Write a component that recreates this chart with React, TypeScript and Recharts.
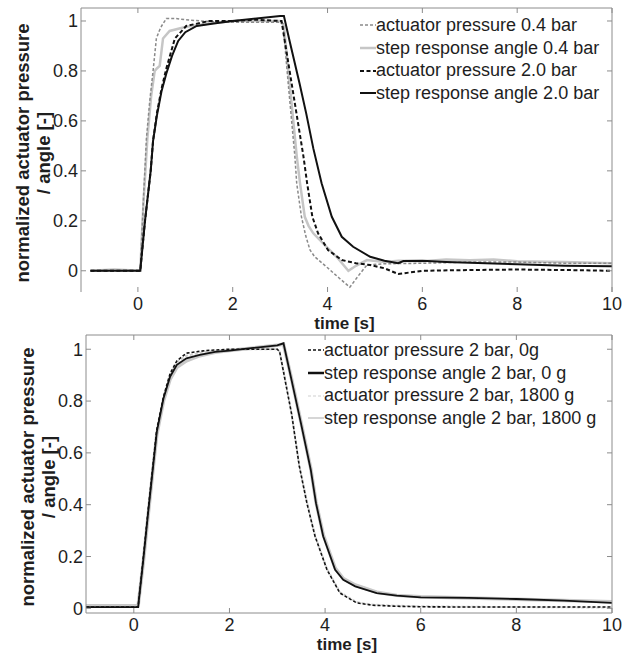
import { LineChart, Line, XAxis, YAxis, Legend } from 'recharts';

const FONT = '"Liberation Sans", Arial, sans-serif';
const AXIS = '#8c8c8c';
const INK = '#1e1e1e';

const xTicks = [0, 2, 4, 6, 8, 10];
const yTicks = [0, 0.2, 0.4, 0.6, 0.8, 1];
const yTickLabels = ['0', '0.2', '0.4', '0.6', '0.8', '1'];

// top panel: 0.4 bar vs 2.0 bar
const tPress04 = [-1, 0.05, 0.12, 0.18, 0.25, 0.32, 0.39, 0.45, 0.5, 0.6, 0.8, 1.0, 1.5, 2.0, 2.5, 3.0, 3.06, 3.18, 3.31, 3.35, 3.45, 3.54, 3.63, 3.73, 4.0, 4.25, 4.47, 4.65, 4.83, 5.2, 6, 7, 8, 9, 10];
const vPress04 = [0, 0, 0.3, 0.53, 0.68, 0.8, 0.93, 0.96, 0.98, 1.01, 1.01, 1.005, 0.998, 0.995, 0.995, 0.995, 0.99, 0.73, 0.46, 0.35, 0.216, 0.14, 0.083, 0.056, 0.012, -0.03, -0.066, -0.02, 0.023, 0.028, 0.03, 0.035, 0.035, 0.03, 0.03];

const tAngle04 = [-1, -0.5, 0.05, 0.12, 0.2, 0.28, 0.355, 0.4, 0.46, 0.53, 0.67, 1.02, 1.5, 2.0, 2.5, 3.0, 3.08, 3.2, 3.35, 3.42, 3.52, 3.6, 3.7, 3.98, 4.19, 4.44, 4.6, 4.83, 5.2, 5.5, 6, 6.5, 7, 7.5, 8, 9, 10];
const vAngle04 = [0, 0.005, 0, 0.28, 0.53, 0.7, 0.8, 0.81, 0.82, 0.93, 0.96, 0.977, 0.99, 1.0, 1.0, 1.0, 0.98, 0.75, 0.46, 0.35, 0.216, 0.18, 0.15, 0.096, 0.056, 0.0, 0.02, 0.043, 0.035, 0.04, 0.038, 0.045, 0.042, 0.045, 0.038, 0.035, 0.03];

const tPress20 = [-1, 0.05, 0.15, 0.27, 0.32, 0.4, 0.5, 0.6, 0.78, 1.02, 1.5, 2.0, 2.5, 3.0, 3.03, 3.2, 3.49, 3.57, 3.68, 3.8, 4.01, 4.3, 4.6, 4.9, 5.2, 5.49, 6.0, 7, 8, 9, 10];
const vPress20 = [0, 0, 0.2, 0.4, 0.52, 0.63, 0.73, 0.81, 0.93, 0.98, 1.0, 1.0, 1.005, 1.0, 1.0, 0.8, 0.46, 0.35, 0.216, 0.15, 0.083, 0.043, 0.03, 0.023, 0.01, -0.013, 0.0, 0.003, 0.005, 0.003, 0.0];

const tAngle20 = [-1, 0.05, 0.15, 0.27, 0.32, 0.4, 0.5, 0.6, 0.72, 0.85, 1.0, 1.24, 1.6, 2.0, 2.5, 3.0, 3.08, 3.2, 3.41, 3.55, 3.7, 3.875, 4.09, 4.3, 4.54, 4.9, 5.2, 5.49, 5.6, 6, 6.5, 7, 8, 9, 10];
const vAngle20 = [0, 0, 0.2, 0.4, 0.52, 0.62, 0.72, 0.79, 0.86, 0.92, 0.955, 0.98, 0.99, 1.0, 1.01, 1.02, 1.02, 0.92, 0.75, 0.63, 0.49, 0.35, 0.216, 0.136, 0.096, 0.056, 0.04, 0.03, 0.039, 0.04, 0.035, 0.032, 0.026, 0.02, 0.018];

// bottom panel: 2 bar, 0 g vs 1800 g
const tPress0g = [-1, 0.09, 0.2, 0.3, 0.39, 0.48, 0.62, 0.76, 0.9, 1.1, 1.5, 2.0, 2.5, 3.0, 3.05, 3.3, 3.46, 3.62, 3.79, 4.04, 4.31, 4.66, 5.0, 5.5, 6, 7, 8, 9, 10];
const vPress0g = [0.005, 0.005, 0.2, 0.38, 0.535, 0.69, 0.817, 0.907, 0.955, 0.985, 0.995, 1.0, 1.0, 1.0, 0.99, 0.75, 0.55, 0.406, 0.278, 0.149, 0.059, 0.021, 0.012, 0.008, 0.006, 0.005, 0.005, 0.005, 0.005];

const tPress1800 = [-1, -0.5, 0, 0.09, 0.2, 0.3, 0.39, 0.48, 0.62, 0.76, 0.9, 1.1, 1.5, 2.0, 2.5, 3.0, 3.05, 3.3, 3.46, 3.62, 3.79, 4.04, 4.31, 4.66, 5.0, 5.5, 6, 7, 8, 9, 10];
const vPress1800 = [0.01, 0.008, 0.01, 0.01, 0.19, 0.37, 0.53, 0.68, 0.81, 0.9, 0.95, 0.975, 0.99, 0.998, 1.0, 1.0, 0.99, 0.75, 0.55, 0.41, 0.28, 0.152, 0.062, 0.024, 0.014, 0.01, 0.008, 0.006, 0.005, 0.004, 0.003];

const tAngle2bar = [-1, 0.09, 0.2, 0.3, 0.39, 0.48, 0.62, 0.76, 0.9, 1.1, 1.38, 1.7, 2.0, 2.5, 3.0, 3.13, 3.3, 3.5, 3.7, 3.81, 3.96, 4.21, 4.38, 4.63, 5.08, 5.5, 6, 7, 8, 9, 10];
const vAngle0g = [0.005, 0.005, 0.19, 0.37, 0.525, 0.68, 0.81, 0.895, 0.94, 0.965, 0.978, 0.99, 0.995, 1.005, 1.015, 1.023, 0.88, 0.71, 0.535, 0.406, 0.278, 0.149, 0.11, 0.085, 0.059, 0.049, 0.042, 0.04, 0.036, 0.03, 0.021];
const vAngle1800 = [0.01, 0.01, 0.18, 0.36, 0.515, 0.67, 0.8, 0.885, 0.93, 0.955, 0.975, 0.988, 0.995, 1.005, 1.015, 1.02, 0.885, 0.715, 0.54, 0.41, 0.285, 0.155, 0.115, 0.09, 0.062, 0.05, 0.045, 0.04, 0.035, 0.03, 0.025];

const zip = (t: number[], v: number[]) => t.map((x, i) => ({ t: x, v: v[i] }));

interface Series {
  name: string;
  data: { t: number; v: number }[];
  color: string;
  width: number;
  dash?: string;
  legendWidth?: number;
}

const press04: Series = { name: 'actuator pressure 0.4 bar', data: zip(tPress04, vPress04), color: '#8a8a8a', width: 1.5, dash: '3 2' };
const angle04: Series = { name: 'step response angle 0.4 bar', data: zip(tAngle04, vAngle04), color: '#c6c6c6', width: 2.5 };
const press20: Series = { name: 'actuator pressure 2.0 bar', data: zip(tPress20, vPress20), color: '#111', width: 2, dash: '4 2.5' };
const angle20: Series = { name: 'step response angle 2.0 bar', data: zip(tAngle20, vAngle20), color: '#111', width: 2 };

const press0g: Series = { name: 'actuator pressure 2 bar, 0g', data: zip(tPress0g, vPress0g), color: '#111', width: 1.6, dash: '3 2' };
const angle0g: Series = { name: 'step response angle 2 bar, 0 g', data: zip(tAngle2bar, vAngle0g), color: '#111', width: 1.8, legendWidth: 2.5 };
const press1800: Series = { name: 'actuator pressure 2 bar, 1800 g', data: zip(tPress1800, vPress1800), color: '#cfcfcf', width: 2, dash: '3 2', legendWidth: 1.2 };
const angle1800: Series = { name: 'step response angle 2 bar, 1800 g', data: zip(tAngle2bar, vAngle1800), color: '#c8c8c8', width: 3.5, legendWidth: 1.5 };

const BottomTick = ({ x, y, payload }: any) => (
  <g>
    <line x1={x} y1={y} x2={x} y2={y - 5} stroke={AXIS} />
    <text x={x} y={y + 18} textAnchor="middle" fontSize={18} fontFamily={FONT} fill={INK}>
      {payload.value}
    </text>
  </g>
);

const TopTick = ({ x, y }: any) => <line x1={x} y1={y} x2={x} y2={y + 5} stroke={AXIS} />;

const LeftTick = ({ x, y, payload, index }: any) => (
  <g>
    <line x1={x} y1={y} x2={x + 5} y2={y} stroke={AXIS} />
    <text x={x - 3} y={y} dy="0.35em" textAnchor="end" fontSize={18} fontFamily={FONT} fill={INK}>
      {yTickLabels[index] ?? payload.value}
    </text>
  </g>
);

const RightTick = ({ x, y }: any) => <line x1={x} y1={y} x2={x - 5} y2={y} stroke={AXIS} />;

const yTitle = (props: any) => {
  const vb = props.viewBox;
  const cy = vb.y + vb.height / 2 + 3;
  const x1 = vb.x + vb.width - 52;
  const x2 = vb.x + vb.width - 31;
  return (
    <g fontFamily={FONT} fontSize={18.5} fontWeight="bold" fill={INK} textAnchor="middle">
      <text x={x1} y={cy} transform={`rotate(-90, ${x1}, ${cy})`}>normalized actuator pressure</text>
      <text x={x2} y={cy} transform={`rotate(-90, ${x2}, ${cy})`}>/ angle [-]</text>
    </g>
  );
};

const xTitle = (dy: number) => (props: any) => {
  const vb = props.viewBox;
  return (
    <text x={vb.x + vb.width / 2 - 2} y={vb.y + dy} textAnchor="middle" fontFamily={FONT} fontSize={17} fontWeight="bold" fill={INK}>
      time [s]
    </text>
  );
};

const legendContent = (items: Series[]) => () => (
  <div style={{ fontFamily: FONT, fontSize: 18, color: INK, lineHeight: '22.7px' }}>
    {items.map((s) => (
      <div key={s.name} style={{ display: 'flex', alignItems: 'center', whiteSpace: 'nowrap' }}>
        <svg width={16} height={10} style={{ flex: 'none' }}>
          <line x1={0} x2={16} y1={5} y2={5} stroke={s.color} strokeWidth={s.legendWidth ?? s.width} strokeDasharray={s.dash} />
        </svg>
        <span>{s.name}</span>
      </div>
    ))}
  </div>
);

interface PanelProps {
  height: number;
  margin: { top: number; right: number; bottom: number; left: number };
  xDomain: [number, number];
  yDomain: [number, number];
  legendItems: Series[];
  drawOrder: Series[];
  legendPos: { left: number; top: number };
  bottomLine: boolean;
  xTitleDy: number;
}

// axes are 1px thick so recharts still draws them; margins are reduced by 1 to compensate
function Panel({ height, margin, xDomain, yDomain, legendItems, drawOrder, legendPos, bottomLine, xTitleDy }: PanelProps) {
  return (
    <LineChart width={631} height={height} margin={margin}>
      <XAxis
        xAxisId="b"
        type="number"
        dataKey="t"
        domain={xDomain}
        ticks={xTicks}
        interval={0}
        allowDataOverflow
        height={1}
        tickSize={0}
        tickMargin={0}
        tickLine={false}
        axisLine={bottomLine ? { stroke: AXIS } : false}
        tick={(p: any) => <BottomTick {...p} />}
        label={{ content: xTitle(xTitleDy) }}
      />
      <XAxis
        xAxisId="top"
        orientation="top"
        type="number"
        dataKey="t"
        domain={xDomain}
        ticks={xTicks}
        interval={0}
        allowDataOverflow
        height={1}
        tickSize={0}
        tickMargin={0}
        tickLine={false}
        axisLine={{ stroke: AXIS }}
        tick={(p: any) => <TopTick {...p} />}
      />
      <YAxis
        yAxisId="l"
        type="number"
        domain={yDomain}
        ticks={yTicks}
        interval={0}
        allowDataOverflow
        width={1}
        tickSize={0}
        tickMargin={0}
        tickLine={false}
        axisLine={{ stroke: AXIS }}
        tick={(p: any) => <LeftTick {...p} />}
        label={{ content: yTitle }}
      />
      <YAxis
        yAxisId="r"
        orientation="right"
        type="number"
        domain={yDomain}
        ticks={yTicks}
        interval={0}
        allowDataOverflow
        width={1}
        tickSize={0}
        tickMargin={0}
        tickLine={false}
        axisLine={{ stroke: AXIS }}
        tick={(p: any) => <RightTick {...p} />}
      />
      {drawOrder.map((s) => (
        <Line
          key={s.name}
          xAxisId="b"
          yAxisId="l"
          name={s.name}
          data={s.data}
          dataKey="v"
          type="linear"
          stroke={s.color}
          strokeWidth={s.width}
          strokeDasharray={s.dash}
          dot={false}
          activeDot={false}
          isAnimationActive={false}
        />
      ))}
      <Legend
        layout="vertical"
        align="center"
        verticalAlign="middle"
        content={legendContent(legendItems)}
        wrapperStyle={{ left: legendPos.left, top: legendPos.top, width: 270 }}
      />
    </LineChart>
  );
}

export default function App() {
  return (
    <div style={{ position: 'absolute', left: 0, top: 0, width: 631, height: 653, background: '#fff' }}>
      <Panel
        height={334}
        margin={{ top: 7, right: 18, bottom: 41, left: 80 }}
        xDomain={[-1.2, 10]}
        yDomain={[-0.085, 1.052]}
        legendItems={[press04, angle04, press20, angle20]}
        drawOrder={[angle04, press04, press20, angle20]}
        legendPos={{ left: 360, top: 14 }}
        bottomLine={false}
        xTitleDy={37}
      />
      <div style={{ marginTop: -4 }}>
        <Panel
          height={323}
          margin={{ top: 4, right: 18, bottom: 39, left: 85 }}
          xDomain={[-1, 10]}
          yDomain={[-0.018, 1.055]}
          legendItems={[press0g, angle0g, press1800, angle1800]}
          drawOrder={[angle1800, press1800, press0g, angle0g]}
          legendPos={{ left: 308, top: 9 }}
          bottomLine
          xTitleDy={37}
        />
      </div>
    </div>
  );
}
